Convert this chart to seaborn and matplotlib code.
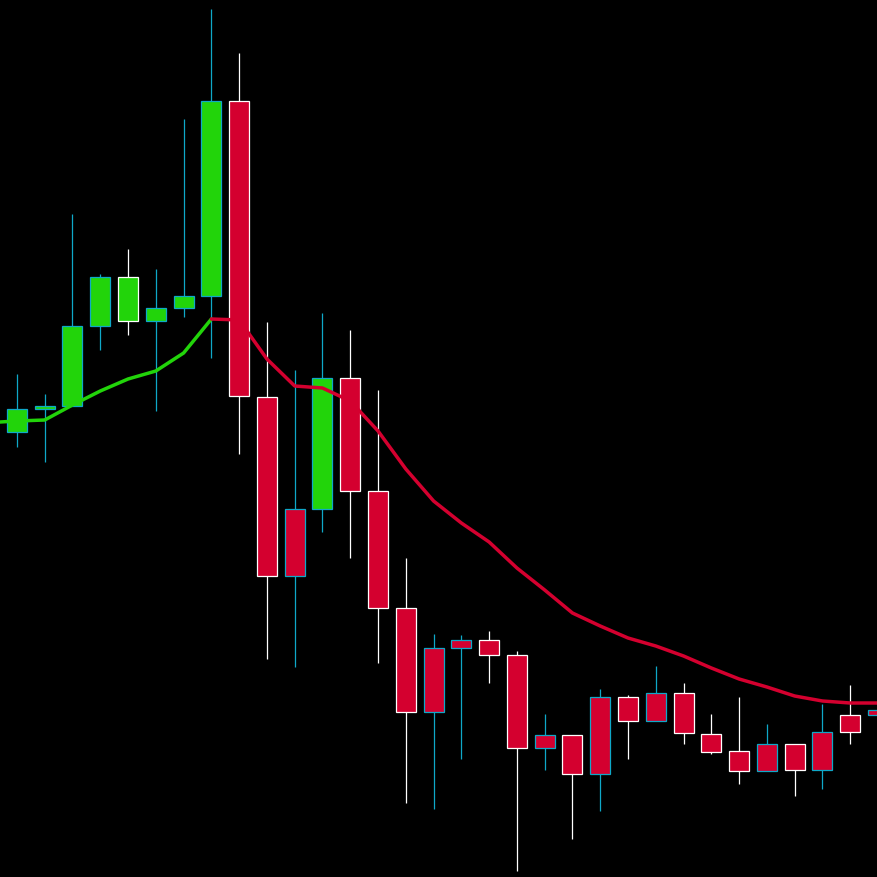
import matplotlib
matplotlib.use("Agg")
import matplotlib.pyplot as plt
import seaborn as sns
import numpy as np

# price values (chart units, higher = up)
opens = [445, 468, 471, 551, 556, 556, 569, 581, 776, 480, 368, 368, 499, 386, 269, 229, 237, 237, 222, 142, 142, 180, 180, 184, 184, 143, 126, 133, 133, 145, 162, 167]
closes = [468, 471, 551, 600, 600, 569, 581, 776, 481, 301, 301, 499, 386, 269, 165, 165, 229, 222, 129, 129, 103, 103, 156, 156, 144, 125, 106, 106, 107, 107, 145, 162]
highs = [503, 483, 663, 603, 628, 608, 758, 868, 824, 555, 507, 564, 547, 487, 319, 243, 242, 246, 226, 163, 142, 188, 182, 211, 194, 163, 180, 153, 133, 173, 192, 170]
lows = [430, 415, 471, 527, 542, 466, 560, 519, 423, 218, 210, 345, 319, 214, 74, 68, 118, 194, 6, 107, 38, 66, 118, 156, 133, 123, 93, 106, 81, 88, 133, 160]
edge_is_cyan = [1, 1, 1, 1, 0, 1, 1, 1, 0, 0, 1, 1, 0, 0, 0, 1, 1, 0, 0, 1, 0, 1, 0, 1, 0, 0, 0, 1, 0, 1, 0, 1]

avg_x = [-0.61, 0, 1, 2, 3, 4, 5, 6, 7, 8, 9, 10, 11, 12, 13, 14, 15, 16, 17, 18, 19, 20, 21, 22, 23, 24, 25, 26, 27, 28, 29, 30, 31]
avg_y = [455, 456, 457, 472, 486, 498, 506, 524, 558, 557, 518, 491, 489, 476, 446, 408, 376, 354, 335, 309, 287, 264, 251, 239, 231, 221, 209, 198, 190, 181, 176, 174, 174]

GREEN = "#22d40a"
RED = "#d4002f"
CYAN = "#0fa8c8"

sns.set_style("dark")
fig = plt.figure(figsize=(8.78, 8.78), dpi=100, facecolor="black")
ax = fig.add_axes([0, 0, 1, 1])
ax.set_facecolor("black")

x = np.arange(len(opens))
o = np.array(opens)
c = np.array(closes)
body_col = [GREEN if cc >= oo else RED for oo, cc in zip(o, c)]
edge_col = [CYAN if e else "white" for e in edge_is_cyan]

ax.vlines(x, lows, highs, colors=edge_col, linewidth=0.9, zorder=1)
ax.bar(x, np.abs(c - o), bottom=np.minimum(o, c), width=0.72,
       color=body_col, edgecolor=edge_col, linewidth=0.9, zorder=2)

# moving average: green up to the peak, red afterwards
split = 9
sns.lineplot(x=avg_x[:split], y=avg_y[:split], color=GREEN, linewidth=2.5, ax=ax, zorder=3)
sns.lineplot(x=avg_x[split - 1:], y=avg_y[split - 1:], color=RED, linewidth=2.5, ax=ax, zorder=3)

ax.set_xlim(-0.61, 31)
ax.set_ylim(0, 878)
ax.axis("off")
fig.savefig("out.png", dpi=100, facecolor="black")
